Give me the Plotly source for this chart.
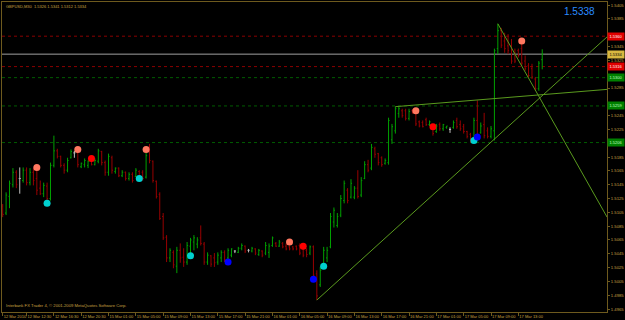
import plotly.graph_objects as go

# ---------------- data (GBPUSD, M30) ----------------
opens = [1.5114,1.5104,1.5128,1.5145,1.5163,1.5154,1.5151,1.5166,1.5148,1.5163,
         1.5154,1.5140,1.5132,1.5143,1.5125,1.5173,1.5194,1.5186,1.5173,1.5166,
         1.5184,1.5191,1.5191,1.5171,1.5174,1.5173,1.5181,1.5174,1.5179,1.5193,
         1.5177,1.5163,1.5184,1.5164,1.5169,1.5158,1.5163,1.5154,1.5160,1.5157,
         1.5164,1.5163,1.5156,1.5200,1.5179,1.5150,1.5131,1.5099,1.5069,1.5039,
         1.5047,1.5027,1.5050,1.5040,1.5033,1.5056,1.5062,1.5059,1.5068,1.5059,
         1.5033,1.5042,1.5039,1.5033,1.5039,1.5047,1.5039,1.5043,1.5049,1.5047,
         1.5053,1.5056,1.5050,1.5049,1.5052,1.5044,1.5049,1.5046,1.5047,1.5057,
         1.5060,1.5056,1.5060,1.5056,1.5055,1.5055,1.5056,1.5057,1.5052,1.5050,
         1.5046,1.5055,1.5016,1.5000,1.5027,1.5039,1.5055,1.5091,1.5086,1.5101,
         1.5122,1.5137,1.5127,1.5127,1.5140,1.5130,1.5154,1.5174,1.5169,1.5197,
         1.5190,1.5184,1.5176,1.5177,1.5210,1.5223,1.5248,1.5252,1.5252,1.5241,
         1.5252,1.5249,1.5236,1.5235,1.5239,1.5232,1.5232,1.5222,1.5232,1.5226,
         1.5228,1.5225,1.5228,1.5238,1.5232,1.5229,1.5222,1.5218,1.5212,1.5238,
         1.5220,1.5232,1.5223,1.5215,1.5223,1.5342,1.5368,1.5353,1.5346,1.5346,
         1.5336,1.5339,1.5342,1.5324,1.5317,1.5313,1.5298,1.5284,1.5326]
highs = [1.5117,1.5134,1.5151,1.5169,1.5166,1.5170,1.5170,1.5170,1.5169,1.5169,
         1.5166,1.5151,1.5148,1.5148,1.5177,1.5216,1.5197,1.5187,1.5176,1.5184,
         1.5196,1.5194,1.5197,1.5177,1.5183,1.5180,1.5183,1.5183,1.5197,1.5194,
         1.5180,1.5190,1.5187,1.5170,1.5170,1.5166,1.5164,1.5163,1.5163,1.5169,
         1.5166,1.5166,1.5191,1.5204,1.5180,1.5151,1.5134,1.5104,1.5072,1.5053,
         1.5050,1.5055,1.5060,1.5053,1.5062,1.5068,1.5072,1.5069,1.5086,1.5062,
         1.5047,1.5043,1.5046,1.5047,1.5050,1.5050,1.5053,1.5053,1.5050,1.5055,
         1.5060,1.5057,1.5052,1.5055,1.5053,1.5052,1.5050,1.5062,1.5060,1.5070,
         1.5062,1.5065,1.5062,1.5060,1.5057,1.5056,1.5057,1.5060,1.5055,1.5053,
         1.5057,1.5057,1.5021,1.5026,1.5055,1.5055,1.5104,1.5112,1.5104,1.5130,
         1.5151,1.5140,1.5153,1.5143,1.5166,1.5156,1.5179,1.5181,1.5204,1.5200,
         1.5191,1.5186,1.5183,1.5242,1.5233,1.5258,1.5258,1.5255,1.5255,1.5255,
         1.5254,1.5252,1.5238,1.5238,1.5242,1.5238,1.5233,1.5233,1.5235,1.5233,
         1.5230,1.5228,1.5238,1.5242,1.5238,1.5233,1.5223,1.5220,1.5242,1.5267,
         1.5235,1.5249,1.5228,1.5230,1.5342,1.5378,1.5372,1.5365,1.5363,1.5356,
         1.5342,1.5342,1.5350,1.5332,1.5321,1.5320,1.5301,1.5324,1.5341]
lows = [1.5098,1.5101,1.5111,1.5141,1.5140,1.5132,1.5148,1.5144,1.5144,1.5144,
        1.5130,1.5130,1.5127,1.5119,1.5122,1.5170,1.5183,1.5170,1.5161,1.5163,
        1.5183,1.5184,1.5170,1.5169,1.5170,1.5169,1.5173,1.5173,1.5176,1.5173,
        1.5158,1.5158,1.5161,1.5161,1.5156,1.5156,1.5151,1.5151,1.5148,1.5156,
        1.5154,1.5151,1.5154,1.5176,1.5148,1.5125,1.5094,1.5065,1.5033,1.5033,
        1.5024,1.5017,1.5032,1.5026,1.5029,1.5040,1.5050,1.5053,1.5057,1.5029,
        1.5029,1.5026,1.5026,1.5029,1.5033,1.5033,1.5037,1.5040,1.5046,1.5046,
        1.5050,1.5046,1.5047,1.5047,1.5043,1.5042,1.5040,1.5043,1.5039,1.5055,
        1.5055,1.5055,1.5053,1.5050,1.5050,1.5050,1.5050,1.5043,1.5040,1.5040,
        1.5043,1.5011,1.4978,1.4997,1.5026,1.5033,1.5053,1.5083,1.5083,1.5098,
        1.5118,1.5118,1.5125,1.5124,1.5125,1.5127,1.5153,1.5163,1.5166,1.5184,
        1.5173,1.5171,1.5174,1.5174,1.5204,1.5219,1.5242,1.5242,1.5238,1.5238,
        1.5248,1.5230,1.5228,1.5228,1.5230,1.5230,1.5216,1.5220,1.5223,1.5223,
        1.5226,1.5220,1.5226,1.5226,1.5223,1.5219,1.5212,1.5206,1.5209,1.5209,
        1.5219,1.5212,1.5212,1.5212,1.5209,1.5334,1.5343,1.5336,1.5334,1.5320,
        1.5321,1.5329,1.5317,1.5310,1.5300,1.5298,1.5281,1.5281,1.5312]
closes = [1.5102,1.5130,1.5147,1.5163,1.5145,1.5154,1.5166,1.5148,1.5163,1.5151,
          1.5137,1.5132,1.5144,1.5125,1.5173,1.5194,1.5186,1.5173,1.5166,1.5180,
          1.5193,1.5191,1.5174,1.5176,1.5180,1.5179,1.5174,1.5180,1.5194,1.5177,
          1.5163,1.5186,1.5166,1.5169,1.5158,1.5163,1.5154,1.5160,1.5151,1.5166,
          1.5157,1.5154,1.5187,1.5180,1.5151,1.5128,1.5096,1.5068,1.5039,1.5050,
          1.5029,1.5050,1.5039,1.5033,1.5057,1.5065,1.5068,1.5065,1.5060,1.5033,
          1.5043,1.5030,1.5032,1.5043,1.5047,1.5036,1.5050,1.5052,1.5049,1.5053,
          1.5057,1.5049,1.5050,1.5053,1.5046,1.5050,1.5043,1.5057,1.5056,1.5068,
          1.5056,1.5062,1.5055,1.5052,1.5052,1.5052,1.5052,1.5046,1.5043,1.5044,
          1.5055,1.5014,1.4984,1.5021,1.5050,1.5050,1.5099,1.5108,1.5099,1.5125,
          1.5147,1.5122,1.5147,1.5140,1.5128,1.5151,1.5174,1.5166,1.5199,1.5189,
          1.5177,1.5174,1.5180,1.5238,1.5229,1.5255,1.5255,1.5245,1.5241,1.5251,
          1.5249,1.5233,1.5230,1.5229,1.5232,1.5236,1.5219,1.5230,1.5226,1.5232,
          1.5230,1.5225,1.5235,1.5229,1.5226,1.5222,1.5215,1.5209,1.5238,1.5216,
          1.5230,1.5216,1.5215,1.5226,1.5339,1.5368,1.5347,1.5342,1.5339,1.5324,
          1.5324,1.5332,1.5321,1.5313,1.5303,1.5301,1.5284,1.5321,1.5334]

time_tick_bars = [0, 7, 15, 23, 31, 39, 47, 55, 63, 71, 79, 87, 95, 103, 111, 119, 127, 135, 143, 151]
time_tick_labels = ["12 Mar 2010", "12 Mar 12:30", "12 Mar 16:30", "12 Mar 20:30", "15 Mar 01:00",
                    "15 Mar 05:00", "15 Mar 09:00", "15 Mar 13:00", "15 Mar 17:00", "15 Mar 21:00",
                    "16 Mar 01:00", "16 Mar 05:00", "16 Mar 09:00", "16 Mar 13:00", "16 Mar 17:00",
                    "16 Mar 21:00", "17 Mar 01:00", "17 Mar 05:00", "17 Mar 09:00", "17 Mar 13:00"]

price_ticks = [round(1.4965 + 0.002 * k, 4) for k in range(23)]

# horizontal levels: value, kind
level_values = [1.5360, 1.5334, 1.5316, 1.5300, 1.5259, 1.5206]
level_kinds = ["red", "bid", "red", "green", "green", "green"]

# signal dots (bar index, price)
salmon_bars = [10, 22, 42, 84, 121, 152]
salmon_prices = [1.5170, 1.5196, 1.5196, 1.5062, 1.5252, 1.5353]
red_bars = [26, 88, 126]
red_prices = [1.5183, 1.5056, 1.5229]
cyan_bars = [13, 40, 55, 94, 138]
cyan_prices = [1.5118, 1.5154, 1.5042, 1.5027, 1.5209]
blue_bars = [66, 91, 139]
blue_prices = [1.5033, 1.5008, 1.5214]

# trend lines (bar index, price) pairs
trend1_bars = [92, 177]
trend1_prices = [1.4978, 1.5359]
trend2_bars = [115, 177]
trend2_prices = [1.5258, 1.5283]
trend3_bars = [145, 177]
trend3_prices = [1.5378, 1.5098]

header_text = "GBPUSD,M30  1.5326 1.5341 1.5312 1.5334"
bid_text = "1.5338"
copyright_text = "Interbank FX Trader 4, \u00a9 2001-2009 MetaQuotes Software Corp."

# ---------------- styling ----------------
BG = "#000000"
AXIS = "#6e5a1e"
TXT = "#c8a040"
UP = "#00a000"
DOWN = "#980000"
DOJI = "#c0c0c0"
TREND = "#5a9a1e"
FONT = "Liberation Sans"

idx = list(range(len(opens)))

fig = go.Figure()

groups = {"up": ([], UP), "down": ([], DOWN), "doji": ([], DOJI)}
for i in idx:
    if closes[i] > opens[i]:
        groups["up"][0].append(i)
    elif closes[i] < opens[i]:
        groups["down"][0].append(i)
    else:
        groups["doji"][0].append(i)

for name, (sel, col) in groups.items():
    fig.add_trace(go.Ohlc(
        x=sel,
        open=[opens[i] for i in sel], high=[highs[i] for i in sel],
        low=[lows[i] for i in sel], close=[closes[i] for i in sel],
        increasing=dict(line=dict(color=col, width=1)),
        decreasing=dict(line=dict(color=col, width=1)),
        tickwidth=0.3, showlegend=False, hoverinfo="skip"))

for bx, py in ((trend1_bars, trend1_prices), (trend2_bars, trend2_prices), (trend3_bars, trend3_prices)):
    fig.add_trace(go.Scatter(x=bx, y=py, mode="lines", line=dict(color=TREND, width=1),
                             showlegend=False, hoverinfo="skip"))

for bx, py, col in ((salmon_bars, salmon_prices, "#ff7860"), (red_bars, red_prices, "#ff0000"),
                    (cyan_bars, cyan_prices, "#00d0d0"), (blue_bars, blue_prices, "#0000ff")):
    fig.add_trace(go.Scatter(x=bx, y=py, mode="markers",
                             marker=dict(color=col, size=7, line=dict(width=0)),
                             showlegend=False, hoverinfo="skip"))

shapes = []
annotations = []
box_style = {"red": ("#8a0000", "#e00000", "#ffffff"),
             "green": ("#005c00", "#008000", "#c0ffc0"),
             "bid": ("#a0a0a0", "#d8b840", "#000000")}
for v, k in zip(level_values, level_kinds):
    lc, bg, fc = box_style[k]
    shapes.append(dict(type="line", xref="paper", x0=0, x1=1, yref="y", y0=v, y1=v,
                       line=dict(color=lc, width=1, dash="solid" if k == "bid" else "dot"),
                       layer="below"))
    annotations.append(dict(xref="paper", x=1, xanchor="left", yref="y", y=v, yanchor="middle",
                            text=f"{v:.4f}", showarrow=False, bgcolor=bg, borderpad=0,
                            width=16, height=7, font=dict(size=4, color=fc, family=FONT)))

annotations.append(dict(xref="paper", yref="paper", x=0.003, y=0.987, xanchor="left", yanchor="middle",
                        text=header_text, showarrow=False, font=dict(size=4, color=TXT, family=FONT)))
annotations.append(dict(xref="paper", yref="paper", x=0.984, y=0.968, xanchor="right", yanchor="middle",
                        text=bid_text, showarrow=False, font=dict(size=10, color="#2a8cff", family=FONT)))
annotations.append(dict(xref="paper", yref="paper", x=0.003, y=0.022, xanchor="left", yanchor="middle",
                        text=copyright_text, showarrow=False, font=dict(size=4.2, color=TXT, family=FONT)))

tick_vals_shown = [t for t in price_ticks if all(abs(t - v) > 0.00065 for v in level_values)]

fig.update_layout(
    width=625, height=320,
    margin=dict(l=1, r=17, t=1, b=8),
    paper_bgcolor=BG, plot_bgcolor=BG,
    font=dict(family=FONT, size=4, color=TXT),
    shapes=shapes, annotations=annotations,
    xaxis=dict(range=[-0.2, 176.97], tickmode="array", tickvals=time_tick_bars, ticktext=time_tick_labels,
               tickangle=0, ticks="outside", ticklen=3, tickcolor=AXIS, ticklabelposition="outside right",
               showgrid=False, zeroline=False, showline=True, linecolor=AXIS, linewidth=1, mirror=True,
               rangeslider=dict(visible=False), tickfont=dict(size=4, color=TXT)),
    yaxis=dict(range=[1.49607, 1.54095], side="right", tickmode="array", tickvals=tick_vals_shown,
               ticktext=[f"{t:.4f}" for t in tick_vals_shown],
               ticks="outside", ticklen=2, tickcolor=AXIS,
               showgrid=False, zeroline=False, showline=True, linecolor=AXIS, linewidth=1, mirror=True,
               tickfont=dict(size=4.2, color=TXT)),
)

fig.write_html("out.html")
